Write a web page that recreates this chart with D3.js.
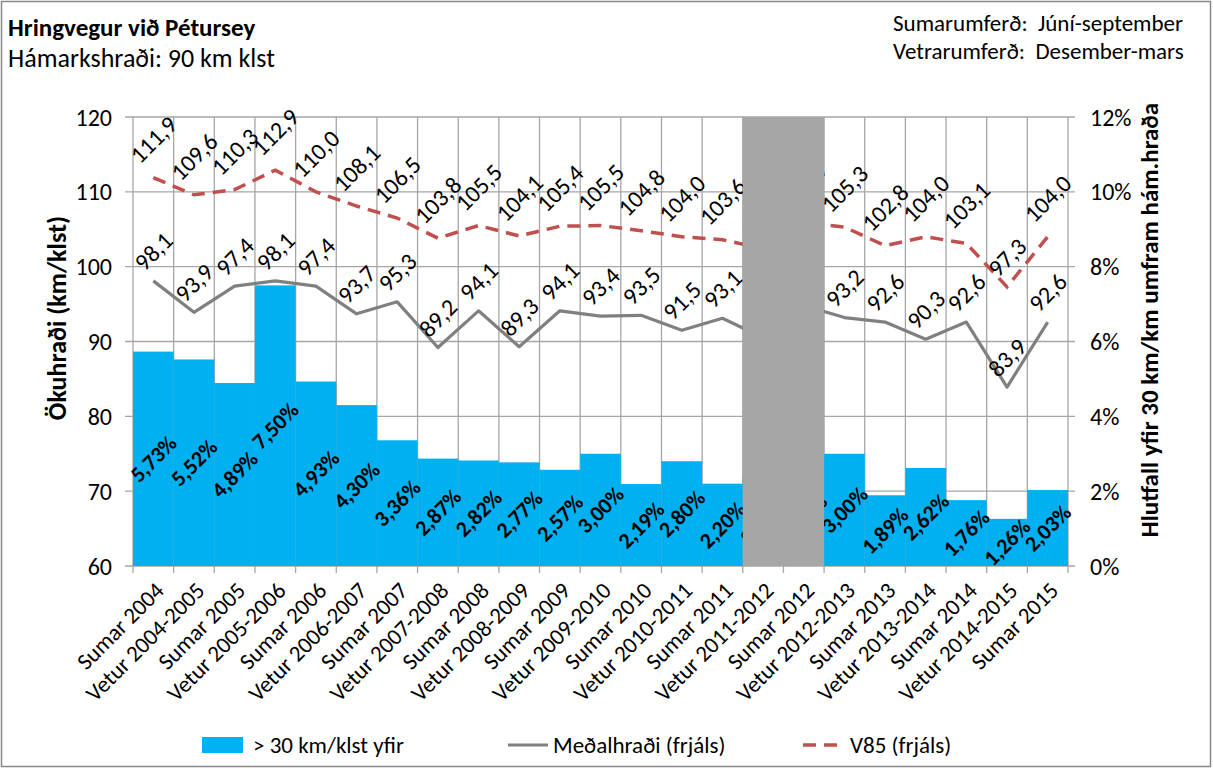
<!DOCTYPE html>
<meta charset="utf-8">
<title>Hringvegur við Pétursey</title>
<style>
  body { margin: 0; background: #fff; }
  svg text { font-family: Carlito, Calibri, Lato, sans-serif; fill: #000; }
</style>
<script src="https://d3js.org/d3.v7.min.js"></script>
<svg id="chart" width="1213" height="769"></svg>
<script>
// tímabil (x-ás)
const categories = [
  "Sumar 2004", "Vetur 2004-2005", "Sumar 2005", "Vetur 2005-2006", "Sumar 2006",
  "Vetur 2006-2007", "Sumar 2007", "Vetur 2007-2008", "Sumar 2008", "Vetur 2008-2009",
  "Sumar 2009", "Vetur 2009-2010", "Sumar 2010", "Vetur 2010-2011", "Sumar 2011",
  "Vetur 2011-2012", "Sumar 2012", "Vetur 2012-2013", "Sumar 2013", "Vetur 2013-2014",
  "Sumar 2014", "Vetur 2014-2015", "Sumar 2015"
];
// hlutfall > 30 km/klst yfir (hægri ás)
const overShare = [5.73, 5.52, 4.89, 7.50, 4.93, 4.30, 3.36, 2.87, 2.82, 2.77, 2.57, 3.00,
  2.19, 2.80, 2.20, 2.40, 2.60, 3.00, 1.89, 2.62, 1.76, 1.26, 2.03];
// meðalhraði (frjáls)
const meanSpeed = [98.1, 93.9, 97.4, 98.1, 97.4, 93.7, 95.3, 89.2, 94.1, 89.3, 94.1, 93.4,
  93.5, 91.5, 93.1, 90.5, 94.8, 93.2, 92.6, 90.3, 92.6, 83.9, 92.6];
// V85 (frjáls)
const v85 = [111.9, 109.6, 110.3, 112.9, 110.0, 108.1, 106.5, 103.8, 105.5, 104.1, 105.4, 105.5,
  104.8, 104.0, 103.6, 102.4, 105.9, 105.3, 102.8, 104.0, 103.1, 97.3, 104.0];
// tímabil án gagna (grátt)
const missing = ["Vetur 2011-2012", "Sumar 2012"];
const leftTicks = [60, 70, 80, 90, 100, 110, 120];
const rightTicks = [0, 2, 4, 6, 8, 10, 12];

const svg = d3.select("#chart");
const plot = { left: 133, right: 1068, top: 117, bottom: 566 };
const gridColor = "#a6a6a6";

const x = d3.scaleBand().domain(categories).range([plot.left, plot.right]).padding(0);
const yL = d3.scaleLinear().domain([60, 120]).range([plot.bottom, plot.top]);
const yR = d3.scaleLinear().domain([0, 12]).range([plot.bottom, plot.top]);
const fmt = v => d3.format(".1f")(v).replace(".", ",");
const fmtPct = v => d3.format(".2f")(v).replace(".", ",") + "%";

// ramminn
svg.append("rect")
  .attr("x", 1.5).attr("y", 1.5).attr("width", 1209).attr("height", 765)
  .attr("fill", "#fff").attr("stroke", "#898989").attr("stroke-width", 1.5);

// titlar
svg.append("text").attr("x", 8).attr("y", 36)
  .style("font-size", "25px").style("font-weight", "bold")
  .text("Hringvegur við Pétursey");
svg.append("text").attr("x", 8).attr("y", 67)
  .style("font-size", "26px")
  .text("Hámarkshraði: 90 km klst");
svg.append("text").attr("x", 893).attr("y", 31)
  .style("font-size", "23px").style("white-space", "pre")
  .text("Sumarumferð:  Júní-september");
svg.append("text").attr("x", 893).attr("y", 59)
  .style("font-size", "23px").style("white-space", "pre")
  .text("Vetrarumferð:  Desember-mars");

// hnitanet
const grid = svg.append("g");
grid.selectAll("line.h")
  .data(leftTicks)
  .join("line")
  .attr("x1", plot.left - 8).attr("x2", plot.right + 7)
  .attr("y1", d => yL(d)).attr("y2", d => yL(d))
  .attr("stroke", gridColor).attr("stroke-width", 1.3);
grid.selectAll("line.v")
  .data(d3.range(categories.length + 1))
  .join("line")
  .attr("x1", i => plot.left + i * x.step()).attr("x2", i => plot.left + i * x.step())
  .attr("y1", plot.top).attr("y2", plot.bottom + 7)
  .attr("stroke", gridColor).attr("stroke-width", 1.3);

// súlur
svg.append("g")
  .selectAll("rect")
  .data(categories)
  .join("rect")
  .attr("x", d => x(d))
  .attr("width", x.bandwidth())
  .attr("y", (d, i) => yR(overShare[i]))
  .attr("height", (d, i) => plot.bottom - yR(overShare[i]))
  .attr("fill", "#00b0f0");

// línur
const lineMean = d3.line().x((d, i) => x(categories[i]) + x.bandwidth() / 2).y(d => yL(d));
svg.append("path").datum(meanSpeed)
  .attr("d", lineMean)
  .attr("fill", "none").attr("stroke", "#808080").attr("stroke-width", 3.2)
  .attr("stroke-linejoin", "round");
svg.append("path").datum(v85)
  .attr("d", lineMean)
  .attr("fill", "none").attr("stroke", "#c0504d").attr("stroke-width", 3.5)
  .attr("stroke-dasharray", "13,8");

// gildismerki
function rotLabels(values, yScale, format, bold, size, place) {
  const g = svg.append("g");
  values.forEach((v, i) => {
    const cx = x(categories[i]) + x.bandwidth() / 2;
    const t = g.append("text")
      .attr("text-anchor", "middle")
      .attr("dominant-baseline", "central")
      .style("font-size", size + "px")
      .style("font-weight", bold ? "bold" : "normal")
      .text(format(v));
    const w = t.node().getComputedTextLength();
    let cy;
    if (place === "center") cy = (yScale(v) + plot.bottom) / 2;
    else cy = yScale(v) - 0.7 * w;
    t.attr("transform", `translate(${cx},${cy}) rotate(-45)`);
  });
}
rotLabels(overShare, yR, fmtPct, true, 22, "center");
rotLabels(meanSpeed, yL, fmt, false, 24, "above");
rotLabels(v85, yL, fmt, false, 24, "above");

// grátt svæði yfir tímabil án gagna
svg.append("rect")
  .attr("x", x(missing[0]))
  .attr("width", x.step() * missing.length)
  .attr("y", plot.top)
  .attr("height", plot.bottom - plot.top)
  .attr("fill", "#a6a6a6");

// ásar
svg.append("g").selectAll("text")
  .data(leftTicks)
  .join("text")
  .attr("x", 112).attr("y", d => yL(d))
  .attr("text-anchor", "end").attr("dominant-baseline", "central")
  .style("font-size", "24px")
  .text(d => d);
svg.append("g").selectAll("text")
  .data(rightTicks)
  .join("text")
  .attr("x", 1090).attr("y", d => yR(d))
  .attr("dominant-baseline", "central")
  .style("font-size", "24px")
  .text(d => d + "%");
svg.append("g").selectAll("text")
  .data(categories)
  .join("text")
  .attr("text-anchor", "end")
  .attr("transform", d => `translate(${x(d) + x.bandwidth() / 2 + 12},${plot.bottom + 26}) rotate(-45)`)
  .style("font-size", "23px")
  .text(d => d);

svg.append("text")
  .attr("transform", "translate(66,318) rotate(-90)")
  .attr("text-anchor", "middle")
  .style("font-size", "26px").style("font-weight", "bold")
  .text("Ökuhraði (km/klst)");
svg.append("text")
  .attr("transform", "translate(1158,320) rotate(-90)")
  .attr("text-anchor", "middle")
  .style("font-size", "25px").style("font-weight", "bold")
  .text("Hlutfall yfir 30 km/km umfram hám.hraða");

// skýringar
const leg = svg.append("g");
leg.append("rect").attr("x", 202).attr("y", 737).attr("width", 41).attr("height", 16).attr("fill", "#00b0f0");
leg.append("text").attr("x", 253).attr("y", 745).attr("dominant-baseline", "central")
  .style("font-size", "23px").text("> 30 km/klst yfir");
leg.append("line").attr("x1", 508).attr("x2", 548).attr("y1", 745).attr("y2", 745)
  .attr("stroke", "#808080").attr("stroke-width", 3.2);
leg.append("text").attr("x", 553).attr("y", 745).attr("dominant-baseline", "central")
  .style("font-size", "23px").text("Meðalhraði (frjáls)");
leg.append("line").attr("x1", 803).attr("x2", 843).attr("y1", 745).attr("y2", 745)
  .attr("stroke", "#c0504d").attr("stroke-width", 3.5).attr("stroke-dasharray", "13,8");
leg.append("text").attr("x", 850).attr("y", 745).attr("dominant-baseline", "central")
  .style("font-size", "23px").text("V85 (frjáls)");
</script>
